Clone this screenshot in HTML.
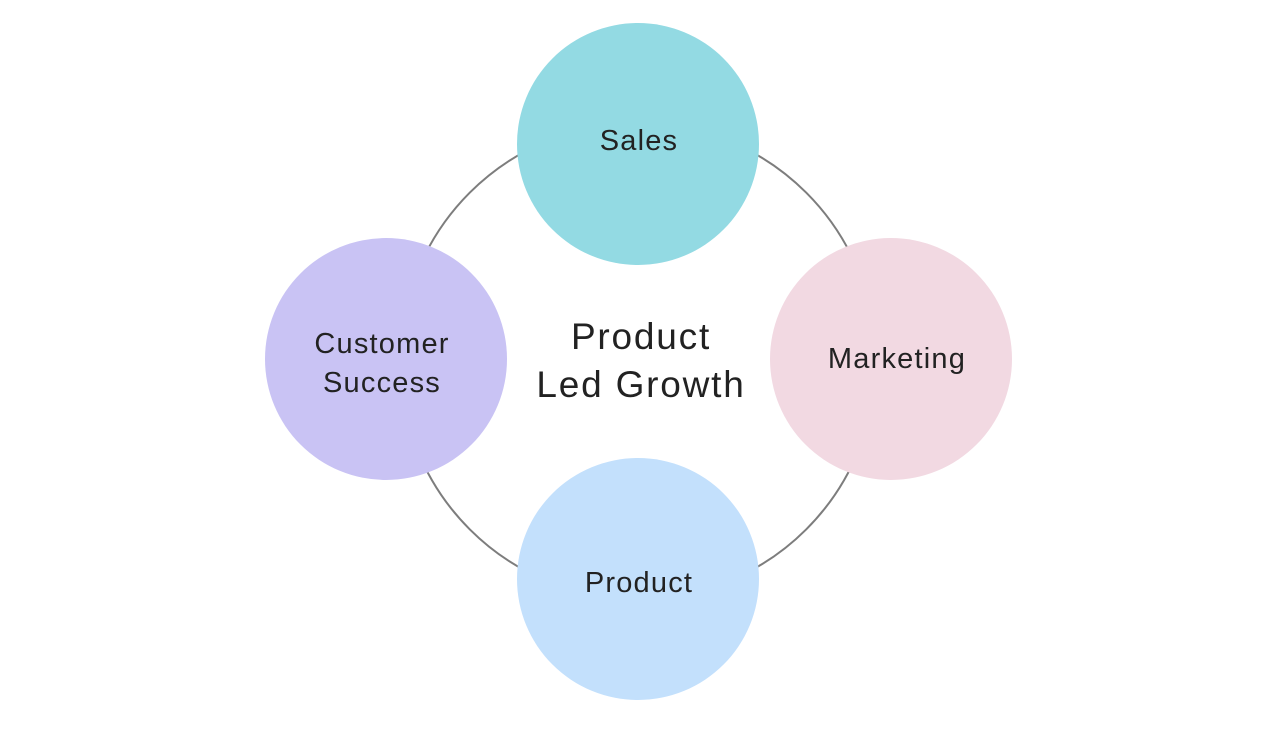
<!DOCTYPE html>
<html><head><style>
html,body{margin:0;padding:0;background:#fff;}
body{width:1272px;height:735px;position:relative;overflow:hidden;font-family:"Liberation Sans",sans-serif;color:#222;}
</style></head><body>
<svg width="1272" height="735" viewBox="0 0 1272 735" xmlns="http://www.w3.org/2000/svg">
<circle cx="638" cy="361" r="238" fill="none" stroke="#7d7d7d" stroke-width="2"/>
<circle cx="638" cy="144" r="121" fill="#93DAE3"/>
<circle cx="891" cy="359" r="121" fill="#F2D9E2"/>
<circle cx="386" cy="359" r="121" fill="#C9C3F4"/>
<circle cx="638" cy="579" r="121" fill="#C3E0FC"/>
<g font-family="Liberation Sans, sans-serif" fill="#222" text-anchor="middle" font-size="29" letter-spacing="1.2">
<text x="639" y="150">Sales</text>
<text x="897" y="368">Marketing</text>
<text x="382" y="353">Customer</text>
<text x="382" y="392">Success</text>
<text x="639" y="592">Product</text>
<text x="641" y="349" font-size="37" letter-spacing="1.8">Product</text>
<text x="641" y="397" font-size="37" letter-spacing="1.8">Led Growth</text>
</g>
</svg>
</body></html>
